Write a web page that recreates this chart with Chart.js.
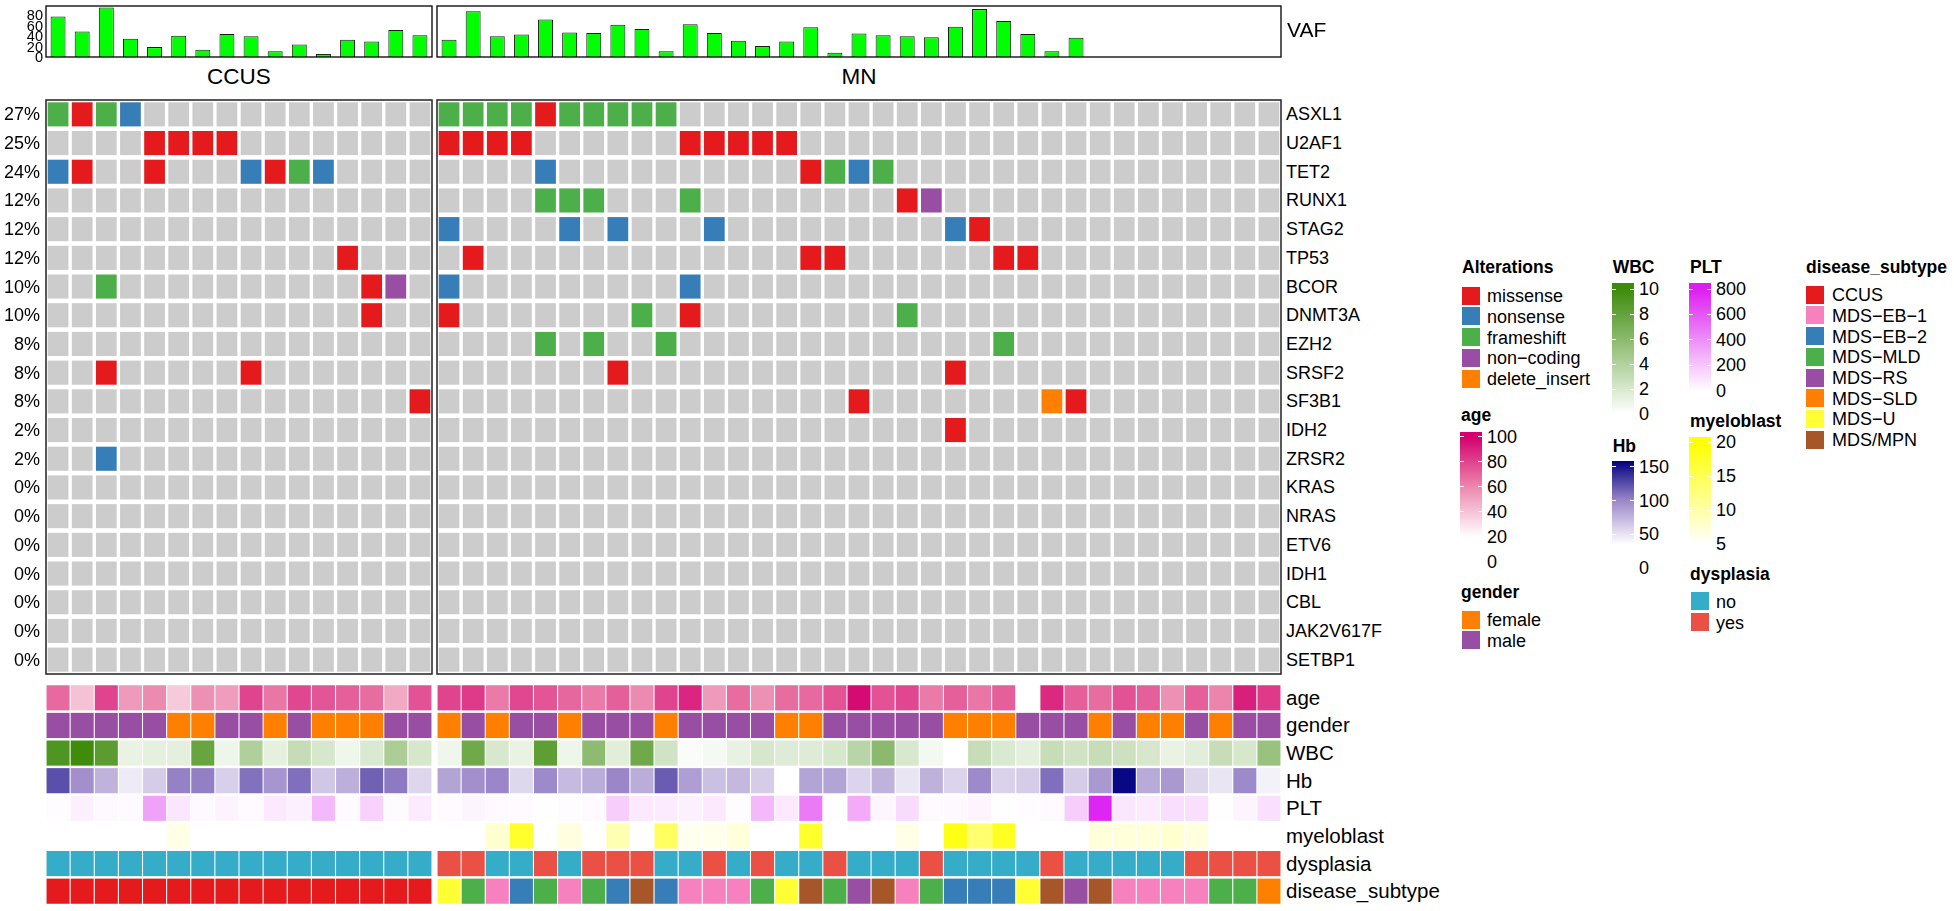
<!DOCTYPE html>
<html>
<head>
<meta charset="utf-8">
<script src="https://cdn.jsdelivr.net/npm/chart.js@4.4.1/dist/chart.umd.min.js"></script>
<style>
  html, body { margin: 0; padding: 0; background: #ffffff; }
  body { width: 1954px; height: 911px; position: relative; overflow: hidden;
         font-family: "Liberation Sans", Arial, Helvetica, sans-serif; color: #000; }
  canvas { position: absolute; }
</style>
</head>
<body>
<script>
// ===================== DATA =====================
const genes = ['ASXL1','U2AF1','TET2','RUNX1','STAG2','TP53','BCOR','DNMT3A','EZH2','SRSF2',
               'SF3B1','IDH2','ZRSR2','KRAS','NRAS','ETV6','IDH1','CBL','JAK2V617F','SETBP1'];
const pctLabels = ['27%','25%','24%','12%','12%','12%','10%','10%','8%','8%',
                   '8%','2%','2%','0%','0%','0%','0%','0%','0%','0%'];

// alteration per sample: "<sample number><code>", M missense, N nonsense, F frameshift, C non-coding, D delete_insert
const mutCCUS = [
  '1F 2M 3F 4N', '5M 6M 7M 8M', '1N 2M 5M 9N 10M 11F 12N', '', '', '13M', '3F 14M 15C', '14M', '',
  '3M 9M', '16M', '', '3N', '', '', '', '', '', '', ''
];
const mutMN = [
  '1F 2F 3F 4F 5M 6F 7F 8F 9F 10F', '1M 2M 3M 4M 11M 12M 13M 14M 15M', '5N 16M 17F 18N 19F',
  '5F 6F 7F 11F 20M 21C', '1N 6N 8N 12N 22N 23M', '2M 16M 17M 24M 25M', '1N 11N', '1M 9F 11M 20F',
  '5F 7F 10F 24F', '8M 22M', '18M 26D 27M', '22M', '', '', '', '', '', '', '', ''
];

const vafCCUS = [78, 49, 95, 35, 19, 41, 14, 44, 40, 11, 24, 6, 33, 30, 52, 42];
const vafMN = [33, 88, 40, 43, 72, 47, 46, 62, 54, 11, 63, 46, 31, 21, 30, 57, 8, 45, 42, 40, 38, 58, 92, 69, 44, 11, 37,
               null, null, null, null, null, null, null, null];
const vafTicks = [0, 20, 40, 60, 80];

const ageCCUS = [69, 41, 80, 54, 59, 38, 57, 53, 80, 65, 79, 75, 72, 68, 49, 76];
const ageMN = [80, 83, 64, 79, 75, 70, 64, 72, 59, 80, 89, 54, 68, 57, 68, 69, 76, 97, 76, 79, 64, 72, 65, 72, null,
               88, 72, 68, 76, 72, 57, 72, 61, 91, 83];

const genderCCUS = ['male','male','male','male','male','female','female','male','male','female','male','female',
                    'female','female','male','male'];
const genderMN = ['female','male','female','male','male','female','male','male','male','female','male','male','male',
                  'male','female','female','male','male','male','male','male','female','female','female','male',
                  'male','male','female','male','female','female','male','female','male','male'];

const wbcCCUS = [9.1, 9.9, 8.5, 1.1, 1.3, 1.4, 7.8, 0.9, 4.1, 1.3, 3.0, 2.1, 0.8, 1.9, 4.3, 2.1];
const wbcMN = [0.8, 7.4, 2.0, 1.1, 8.3, 0.9, 5.9, 1.5, 7.4, 2.4, 0.3, 0.5, 1.2, 2.1, 1.7, 1.7, 2.1, 3.6, 6.0, 2.0,
               0.6, null, 2.9, 1.9, 1.4, 2.9, 2.4, 2.9, 2.6, 2.1, 1.1, 1.5, 2.9, 2.1, 5.3];

const hbCCUS = [124, 95, 76, 46, 62, 102, 103, 60, 109, 92, 110, 65, 78, 116, 105, 57];
const hbMN = [84, 95, 100, 56, 98, 72, 79, 100, 79, 118, 87, 69, 73, 62, null, 84, 84, 58, 76, 49,
              77, 58, 98, 59, 62, 110, 62, 90, 155, 80, 90, 57, 49, 98, 42];

const pltCCUS = [10, 52, 24, 17, 332, 87, 24, 42, 17, 80, 52, 248, 17, 164, 14, 73];
const pltMN = [17, 35, 17, 17, 5, 10, 17, 178, 80, 73, 52, 80, 10, 248, 80, 472, 5, 304, 31, 129,
               17, 24, 38, 5, 10, 17, 178, 770, 87, 73, 115, 115, 5, 38, 112];

const blastCCUS = [1, 1, 2, 1, 2, 6.5, 1, 1, 2, 1, 1, 2, 1, 1, 2, 1];
const blastMN = [2, 2, 7.8, 17.5, 2, 6.8, 2, 9.6, 3, 14.4, 5.9, 6.2, 7.2, 3, 2, 17.5, 2, 3, 2, 6.4,
                 2, 18.7, 13.4, 18, 2, 1, 3, 7.2, 7.2, 7.2, 7.8, 7, 2, 1, 2];

const dysCCUS = ['no','no','no','no','no','no','no','no','no','no','no','no','no','no','no','no'];
const dysMN = ['yes','yes','no','no','yes','no','yes','yes','yes','no','no','yes','no','yes','no','no','yes','no',
               'no','no','yes','no','no','no','no','yes','no','no','no','no','no','yes','yes','yes','yes'];

const subtypeCCUS = ['CCUS','CCUS','CCUS','CCUS','CCUS','CCUS','CCUS','CCUS','CCUS','CCUS','CCUS','CCUS','CCUS','CCUS','CCUS','CCUS'];
const subtypeMN = ['MDS−U','MDS−MLD','MDS−EB−1','MDS−EB−2','MDS−MLD','MDS−EB−1','MDS−MLD','MDS−EB−2','MDS/MPN','MDS−EB−2',
                   'MDS−EB−1','MDS−EB−1','MDS−EB−1','MDS−MLD','MDS−U','MDS/MPN','MDS−MLD','MDS−RS','MDS/MPN','MDS−EB−1',
                   'MDS−MLD','MDS−EB−2','MDS−EB−2','MDS−EB−2','MDS−U','MDS/MPN','MDS−RS','MDS/MPN','MDS−EB−1','MDS−EB−1',
                   'MDS−EB−1','MDS−EB−1','MDS−MLD','MDS−MLD','MDS−SLD'];

const annotationNames = ['age','gender','WBC','Hb','PLT','myeloblast','dysplasia','disease_subtype'];

const alterationNames = ['missense','nonsense','frameshift','non−coding','delete_insert'];
const alterationCodes = ['M','N','F','C','D'];
const alterationColors = ['#E41A1C','#377EB8','#4DAF4A','#984EA3','#FF7F00'];
const genderNames = ['female','male'];
const genderColors = ['#FF7F00','#984EA3'];
const dysNames = ['no','yes'];
const dysColors = ['#35ACC8','#EA5044'];
const subtypeNames = ['CCUS','MDS−EB−1','MDS−EB−2','MDS−MLD','MDS−RS','MDS−SLD','MDS−U','MDS/MPN'];
const subtypeColors = ['#E41A1C','#F781BF','#377EB8','#4DAF4A','#984EA3','#FF7F00','#FFFF33','#A65628'];

const ageRamp = [[20,'#FFFFFF'],[60,'#EC88AE'],[100,'#D4006E']];
const wbcRamp = [[0,'#FFFFFF'],[10,'#3D8B0B']];
const hbRamp = [[35,'#FFFFFF'],[100,'#9A86C8'],[158,'#000080']];
const pltRamp = [[0,'#FFFFFF'],[800,'#DC1EF0']];
const blastRamp = [[5,'#FFFFFF'],[20,'#FFFF00']];

const ageLegendTicks = [0, 20, 40, 60, 80, 100];
const wbcLegendTicks = [0, 2, 4, 6, 8, 10];
const hbLegendTicks = [0, 50, 100, 150];
const pltLegendTicks = [0, 200, 400, 600, 800];
const blastLegendTicks = [5, 10, 15, 20];

// ===================== HELPERS =====================
const FONT = '"Liberation Sans", Arial, Helvetica, sans-serif';
Chart.defaults.font.family = FONT;
const GRAY = '#CCCCCC';

function hexToRgb(h) { const n = parseInt(h.slice(1), 16); return [(n >> 16) & 255, (n >> 8) & 255, n & 255]; }
function rampColor(ramp, v) {
  if (v === null || v === undefined || isNaN(v)) return '#FFFFFF';
  if (v <= ramp[0][0]) return ramp[0][1];
  if (v >= ramp[ramp.length - 1][0]) return ramp[ramp.length - 1][1];
  for (let i = 0; i < ramp.length - 1; i++) {
    const v0 = ramp[i][0], v1 = ramp[i + 1][0];
    if (v >= v0 && v <= v1) {
      const t = (v - v0) / (v1 - v0), a = hexToRgb(ramp[i][1]), b = hexToRgb(ramp[i + 1][1]);
      return 'rgb(' + a.map((x, k) => Math.round(x + (b[k] - x) * t)).join(',') + ')';
    }
  }
  return '#FFFFFF';
}
function lookup(names, colors) { return v => colors[names.indexOf(v)] || '#FFFFFF'; }
function parseMut(str, n) {
  const out = new Array(n).fill(null);
  str.split(' ').filter(s => s).forEach(tok => {
    const idx = parseInt(tok, 10) - 1, code = tok.slice(-1);
    out[idx] = alterationColors[alterationCodes.indexOf(code)];
  });
  return out;
}

const boxPlugin = {
  id: 'panelBox',
  afterDatasetsDraw(chart, args, opts) {
    if (!opts || !opts.show) return;
    const a = chart.chartArea, ctx = chart.ctx;
    ctx.save();
    ctx.strokeStyle = opts.color; ctx.lineWidth = opts.width;
    ctx.strokeRect(a.left, a.top, a.right - a.left, a.bottom - a.top);
    ctx.restore();
  }
};

function addCanvas(box, pad) {
  const c = document.createElement('canvas');
  const w = box.w + 2 * pad, h = box.h + 2 * pad;
  c.width = w; c.height = h;
  Object.assign(c.style, { left: (box.x - pad) + 'px', top: (box.y - pad) + 'px', width: w + 'px', height: h + 'px' });
  document.body.appendChild(c);
  return c;
}
function baseOptions(pad, yMin, yMax, reverse, boxOpt) {
  return {
    responsive: false, maintainAspectRatio: false, animation: false, devicePixelRatio: 1, events: [],
    layout: { padding: pad },
    plugins: { legend: { display: false }, tooltip: { enabled: false }, title: { display: false }, panelBox: boxOpt },
    scales: {
      x: { type: 'category', display: false, offset: true, grid: { display: false } },
      y: { type: 'linear', display: false, min: yMin, max: yMax, reverse: reverse, grid: { display: false } }
    }
  };
}
function addText(txt, x, y, o) {
  o = o || {};
  const d = document.createElement('div');
  d.textContent = txt;
  const align = o.align || 'left';
  const tx = align === 'left' ? '0' : (align === 'right' ? '-100%' : '-50%');
  Object.assign(d.style, {
    position: 'absolute', left: x + 'px', top: y + 'px', transform: 'translate(' + tx + ',-50%)',
    fontSize: (o.size || 18) + 'px', fontWeight: o.weight || 'normal', lineHeight: '1', whiteSpace: 'nowrap',
    fontFamily: FONT, color: '#000'
  });
  document.body.appendChild(d);
  return d;
}
function addRect(x, y, w, h, bg) {
  const d = document.createElement('div');
  Object.assign(d.style, { position: 'absolute', left: x + 'px', top: y + 'px', width: w + 'px', height: h + 'px', background: bg });
  document.body.appendChild(d);
  return d;
}
function pageY(p, v) { return p.box.y - p.pad + p.chart.scales.y.getPixelForValue(v); }

// ===================== CHARTS =====================
const samplesCCUS = vafCCUS.map((_, i) => 'CCUS_' + (i + 1));
const samplesMN = vafMN.map((_, i) => 'MN_' + (i + 1));

function vafPanel(box, samples, values) {
  const pad = 3, cv = addCanvas(box, pad);
  const chart = new Chart(cv, {
    type: 'bar',
    data: { labels: samples, datasets: [{ data: values, backgroundColor: '#00FF00', borderColor: '#1A1A1A',
            borderWidth: 1, barPercentage: 0.62, categoryPercentage: 1 }] },
    options: baseOptions(pad, 0, 98, false, { show: true, color: '#000', width: 1.3 }),
    plugins: [boxPlugin]
  });
  return { chart, box, pad };
}
function oncoPanel(box, samples, muts) {
  const pad = 3, cv = addCanvas(box, pad);
  const datasets = genes.map((g, gi) => {
    const cols = parseMut(muts[gi], samples.length);
    return { label: g, data: samples.map(() => [gi + 0.08, gi + 0.92]),
             backgroundColor: cols.map(c => c || GRAY), borderWidth: 0,
             grouped: false, barPercentage: 0.86, categoryPercentage: 1 };
  });
  const chart = new Chart(cv, {
    type: 'bar', data: { labels: samples, datasets },
    options: baseOptions(pad, 0, genes.length, true, { show: true, color: '#222', width: 1.5 }),
    plugins: [boxPlugin]
  });
  return { chart, box, pad };
}
function annPanel(box, samples, rows) {
  const pad = 2, cv = addCanvas(box, pad);
  const datasets = rows.map((cols, ri) => ({
    label: annotationNames[ri], data: samples.map(() => [ri + 0.045, ri + 0.955]),
    backgroundColor: cols, borderWidth: 0, grouped: false, barPercentage: 0.955, categoryPercentage: 1
  }));
  const chart = new Chart(cv, {
    type: 'bar', data: { labels: samples, datasets },
    options: baseOptions(pad, 0, rows.length, true, { show: false }),
    plugins: [boxPlugin]
  });
  return { chart, box, pad };
}
function annColors(age, gender, wbc, hb, plt, blast, dys, sub) {
  return [
    age.map(v => rampColor(ageRamp, v)),
    gender.map(lookup(genderNames, genderColors)),
    wbc.map(v => rampColor(wbcRamp, v)),
    hb.map(v => rampColor(hbRamp, v)),
    plt.map(v => rampColor(pltRamp, v)),
    blast.map(v => rampColor(blastRamp, v)),
    dys.map(lookup(dysNames, dysColors)),
    sub.map(lookup(subtypeNames, subtypeColors))
  ];
}

const vafC = vafPanel({ x: 46, y: 6, w: 386, h: 51 }, samplesCCUS, vafCCUS);
const vafM = vafPanel({ x: 437, y: 6, w: 844, h: 51 }, samplesMN, vafMN);
const oncoC = oncoPanel({ x: 46, y: 100, w: 386, h: 574 }, samplesCCUS, mutCCUS);
const oncoM = oncoPanel({ x: 437, y: 100, w: 844, h: 574 }, samplesMN, mutMN);
const annC = annPanel({ x: 46, y: 684, w: 386, h: 221 }, samplesCCUS,
  annColors(ageCCUS, genderCCUS, wbcCCUS, hbCCUS, pltCCUS, blastCCUS, dysCCUS, subtypeCCUS));
const annM = annPanel({ x: 437, y: 684, w: 844, h: 221 }, samplesMN,
  annColors(ageMN, genderMN, wbcMN, hbMN, pltMN, blastMN, dysMN, subtypeMN));

// ===================== TEXT AROUND PANELS =====================
vafTicks.forEach(v => addText(String(v), 43, pageY(vafC, v), { align: 'right', size: 14.5 }));
addText('VAF', 1287, (pageY(vafM, 0) + pageY(vafM, 98)) / 2 - 3, { size: 21 });
[[vafC, 'CCUS'], [vafM, 'MN']].forEach(([p, t]) => {
  const a = p.chart.chartArea;
  addText(t, p.box.x - p.pad + (a.left + a.right) / 2, 77, { align: 'center', size: 22.5 });
});
genes.forEach((g, gi) => {
  addText(pctLabels[gi], 40, pageY(oncoC, gi + 0.5), { align: 'right', size: 18 });
  addText(g, 1286, pageY(oncoM, gi + 0.5), { size: 18 });
});
annotationNames.forEach((n, ri) => addText(n, 1286, pageY(annM, ri + 0.5), { size: 20.5 }));

// ===================== LEGENDS =====================
function swatchLegend(title, tx, ty, names, colors, sx, firstTop, pitch, lx) {
  addText(title, tx, ty, { size: 17.5, weight: 'bold' });
  names.forEach((n, i) => {
    const top = firstTop + i * pitch;
    addRect(sx, top, 18, 18, colors[i]);
    addText(n, lx, top + 9.5, { size: 18 });
  });
}
function colorbarLegend(title, tx, ty, ramp, barX, anchors, topV, ticks, lx) {
  const [[v1, y1], [v2, y2]] = anchors;
  const yOf = v => y1 + (v - v1) * (y2 - y1) / (v2 - v1);
  addText(title, tx, ty, { size: 17.5, weight: 'bold' });
  const minV = ticks[0];
  const top = yOf(topV), bottom = yOf(minV);
  const stops = [];
  for (let k = 0; k <= 40; k++) {
    const v = minV + (topV - minV) * k / 40;
    stops.push(rampColor(ramp, v) + ' ' + (k * 2.5).toFixed(1) + '%');
  }
  addRect(barX, top, 22, bottom - top, 'linear-gradient(to top, ' + stops.join(', ') + ')');
  ticks.forEach(v => {
    const y = yOf(v);
    addRect(barX, y - 0.5, 4, 1, '#FFFFFF');
    addRect(barX + 18, y - 0.5, 4, 1, '#FFFFFF');
    addText(String(v), lx, y, { size: 18 });
  });
}

swatchLegend('Alterations', 1462, 268, alterationNames, alterationColors, 1462, 286.7, 20.7, 1487);
colorbarLegend('age', 1461, 416, ageRamp, 1460, [[100, 436.7], [0, 562]], 104, ageLegendTicks, 1487);
swatchLegend('gender', 1461, 593, genderNames, genderColors, 1462, 610.7, 20.7, 1487);
colorbarLegend('WBC', 1612.7, 268, wbcRamp, 1612, [[10, 289], [0, 414.3]], 10.45, wbcLegendTicks, 1639);
colorbarLegend('Hb', 1612.7, 446.7, hbRamp, 1612, [[150, 466.7], [0, 568.3]], 158, hbLegendTicks, 1639);
colorbarLegend('PLT', 1690, 268, pltRamp, 1689, [[800, 289], [0, 390.7]], 845, pltLegendTicks, 1716);
colorbarLegend('myeloblast', 1690, 421.7, blastRamp, 1689, [[20, 442.3], [5, 544]], 20.8, blastLegendTicks, 1716);
swatchLegend('dysplasia', 1690, 575, dysNames, dysColors, 1691, 592.3, 20.7, 1716);
swatchLegend('disease_subtype', 1806, 268, subtypeNames, subtypeColors, 1806, 285.7, 20.7, 1832);
</script>
</body>
</html>
